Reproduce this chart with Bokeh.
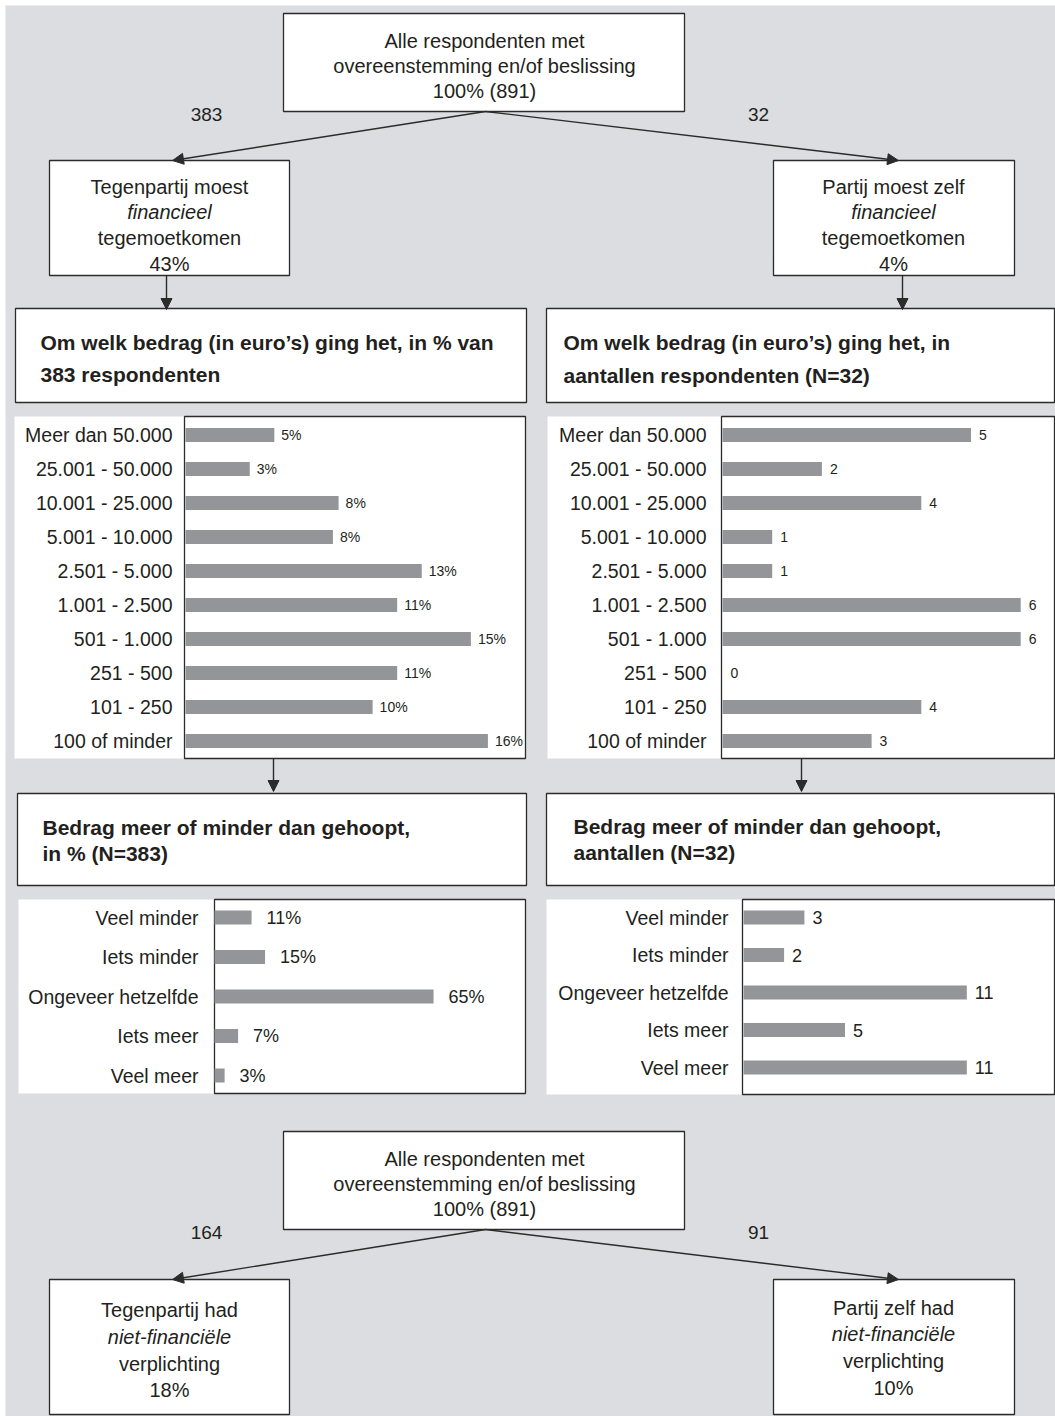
from bokeh.plotting import figure
from bokeh.models import Range1d, Arrow, NormalHead
from bokeh.embed import file_html
from bokeh.resources import INLINE
from bokeh.core.properties import value

# ---------------- data ----------------
amount_categories = ["Meer dan 50.000", "25.001 - 50.000", "10.001 - 25.000", "5.001 - 10.000",
                     "2.501 - 5.000", "1.001 - 2.500", "501 - 1.000", "251 - 500",
                     "101 - 250", "100 of minder"]
amount_pct_tegenpartij = [4.7, 3.4, 8.1, 7.8, 12.5, 11.2, 15.1, 11.2, 9.9, 16.0]
amount_pct_labels = ["5%", "3%", "8%", "8%", "13%", "11%", "15%", "11%", "10%", "16%"]
amount_n_zelf = [5, 2, 4, 1, 1, 6, 6, 0, 4, 3]

hope_categories = ["Veel minder", "Iets minder", "Ongeveer hetzelfde", "Iets meer", "Veel meer"]
hope_pct_tegenpartij = [11, 15, 65, 7, 3]
hope_n_zelf = [3, 2, 11, 5, 11]

total_n = 891
fin_tegen_n, fin_tegen_pct = 383, 43
fin_zelf_n, fin_zelf_pct = 32, 4
nonfin_tegen_n, nonfin_tegen_pct = 164, 18
nonfin_zelf_n, nonfin_zelf_pct = 91, 10

# ---------------- styles ----------------
BG = "#dcdde0"
BAR = "#939598"
TXT = "#231f20"
LINE = "#2b2b2b"
FONT = value("Liberation Sans")

W, H = 1055, 1416
X0, Y0 = 0, 0

p = figure(width=W, height=H, x_range=Range1d(X0, X0 + W), y_range=Range1d(Y0 + H, Y0),
           output_backend="svg", toolbar_location=None, min_border=0,
           x_axis_type=None, y_axis_type=None)
p.grid.visible = False
p.outline_line_color = None
p.background_fill_color = "white"
p.border_fill_color = "white"

# gray page area
p.quad(left=[5], right=[X0 + W], top=[5], bottom=[Y0 + H], fill_color=BG, line_color=None)


def box(l, r, t, b, border=True):
    p.quad(left=[l], right=[r], top=[t], bottom=[b], fill_color="white",
           line_color=LINE if border else None, line_width=1.3)


def txt(x, y, s, size=20, align="center", style="normal", color=TXT):
    p.text(x=[x], y=[y], text=[s], text_font=FONT, text_font_size=f"{size}px",
           text_align=align, text_baseline="middle", text_font_style=style, text_color=color)


def arrow(x1, y1, x2, y2):
    p.add_layout(Arrow(end=NormalHead(size=11, fill_color=LINE, line_color=LINE, line_width=1),
                       x_start=x1, y_start=y1, x_end=x2, y_end=y2,
                       line_color=LINE, line_width=1.4))


def panel(name, x0, ppu, y0, step, cats, vals, labels, lab_off, val_off, val_size, bar_h=14):
    p.extra_x_ranges[name] = Range1d(start=(X0 - x0) / ppu, end=(X0 + W - x0) / ppu)
    p.extra_y_ranges[name] = Range1d(start=(Y0 + H - y0) / step, end=(Y0 - y0) / step)
    idx = list(range(len(cats)))
    p.hbar(y=idx, left=0, right=vals, height=bar_h / step, fill_color=BAR, line_color=None,
           x_range_name=name, y_range_name=name)
    p.text(x=[0] * len(cats), y=idx, text=cats, x_offset=-lab_off, text_align="right",
           text_baseline="middle", text_font=FONT, text_font_size="19.5px", text_color=TXT,
           x_range_name=name, y_range_name=name)
    p.text(x=vals, y=idx, text=labels, x_offset=val_off, text_align="left",
           text_baseline="middle", text_font=FONT, text_font_size=val_size, text_color=TXT,
           x_range_name=name, y_range_name=name)


def tree(top_y, left_n, right_n, left_lines, right_lines, child_top, child_bot, line_ys_l, line_ys_r):
    box(283, 684, top_y, top_y + 98)
    for i, s in enumerate(["Alle respondenten met", "overeenstemming en/of beslissing",
                           f"100% ({total_n})"]):
        txt(484, top_y + 27 + 25 * i, s)
    txt(206, top_y + 101, str(left_n), size=19)
    txt(758, top_y + 101, str(right_n), size=19)
    arrow(485, top_y + 98, 172, child_top)
    arrow(485, top_y + 98, 898, child_top)
    box(49, 289, child_top, child_bot)
    box(773, 1014, child_top, child_bot)
    for (s, st), y in zip(left_lines, line_ys_l):
        txt(169, y, s, style=st)
    for (s, st), y in zip(right_lines, line_ys_r):
        txt(893, y, s, style=st)


# ---------------- top tree ----------------
tree(13, fin_tegen_n, fin_zelf_n,
     [("Tegenpartij moest", "normal"), ("financieel", "italic"), ("tegemoetkomen", "normal"),
      (f"{fin_tegen_pct}%", "normal")],
     [("Partij moest zelf", "normal"), ("financieel", "italic"), ("tegemoetkomen", "normal"),
      (f"{fin_zelf_pct}%", "normal")],
     160, 275, [186, 211, 237, 263], [186, 211, 237, 263])

arrow(166, 275, 166, 309)
arrow(902, 275, 902, 309)

# headers amount
box(15, 526, 308, 402)
box(546, 1054, 308, 402)
txt(40, 342, "Om welk bedrag (in euro’s) ging het, in % van", size=21, align="left", style="bold")
txt(40, 374, f"{fin_tegen_n} respondenten", size=21, align="left", style="bold")
txt(563, 342, "Om welk bedrag (in euro’s) ging het, in", size=21, align="left", style="bold")
txt(563, 375, f"aantallen respondenten (N={fin_zelf_n})", size=21, align="left", style="bold")

# amount panels
box(14, 184, 416, 758, border=False)
box(184, 525, 416, 758)
box(547, 721, 416, 758, border=False)
box(721, 1054, 416, 758)
panel("amtL", 185, 18.9, 434.5, 34, amount_categories, amount_pct_tegenpartij,
      amount_pct_labels, 13, 7, "14px")
panel("amtR", 722, 49.7, 434.5, 34, amount_categories, amount_n_zelf,
      [str(v) for v in amount_n_zelf], 16, 8, "14px")

arrow(273, 758, 273, 791)
arrow(801, 758, 801, 791)

# headers hope
box(17, 526, 793, 885)
box(546, 1054, 793, 885)
txt(42, 827, "Bedrag meer of minder dan gehoopt,", size=21, align="left", style="bold")
txt(42, 853, f"in % (N={fin_tegen_n})", size=21, align="left", style="bold")
txt(573, 826, "Bedrag meer of minder dan gehoopt,", size=21, align="left", style="bold")
txt(573, 852, f"aantallen (N={fin_zelf_n})", size=21, align="left", style="bold")

# hope panels
box(18, 214, 899, 1093, border=False)
box(214, 525, 899, 1093)
box(546, 742, 899, 1094, border=False)
box(742, 1054, 899, 1094)
panel("hopeL", 214, 3.37, 917, 39.5, hope_categories, hope_pct_tegenpartij,
      [f"{v}%" for v in hope_pct_tegenpartij], 16, 15, "18px")
panel("hopeR", 743, 20.3, 917, 37.5, hope_categories, hope_n_zelf,
      [str(v) for v in hope_n_zelf], 15, 8, "18px")

# ---------------- bottom tree ----------------
tree(1131, nonfin_tegen_n, nonfin_zelf_n,
     [("Tegenpartij had", "normal"), ("niet-financiële", "italic"), ("verplichting", "normal"),
      (f"{nonfin_tegen_pct}%", "normal")],
     [("Partij zelf had", "normal"), ("niet-financiële", "italic"), ("verplichting", "normal"),
      (f"{nonfin_zelf_pct}%", "normal")],
     1279, 1414, [1309, 1336, 1363, 1389], [1307, 1333, 1360, 1387])

open("out.html", "w").write(file_html(p, INLINE))
